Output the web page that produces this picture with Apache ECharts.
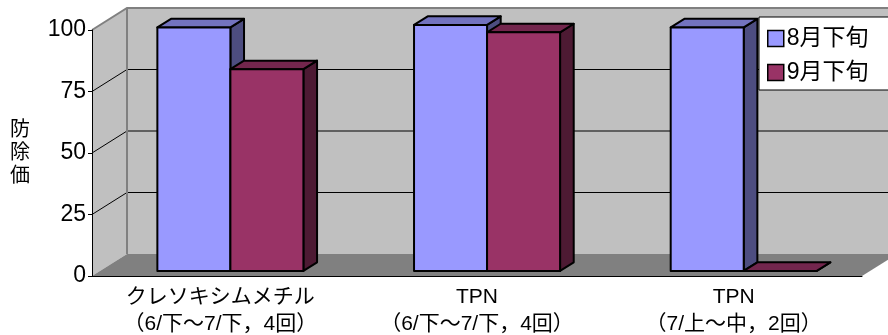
<!DOCTYPE html>
<html><head><meta charset="utf-8">
<script src="https://cdn.jsdelivr.net/npm/echarts@6/dist/echarts.min.js"></script>
<style>html,body{margin:0;padding:0;background:#fff}#c{width:888px;height:335px}</style>
</head><body><div id="c"></div>
<script>
const categories = ['クレソキシムメチル\n（6/下～7/下，4回）', 'TPN\n（6/下～7/下，4回）', 'TPN\n（7/上～中，2回）'];
const seriesNames = ['8月下旬', '9月下旬'];
const augValues = [99, 100, 99];
const sepValues = [82, 97, 0];
const yMin = 0, yMax = 100, yInterval = 25;
const yAxisName = '防\n除\n価';

// 3D style constants
const DX = 35, DY = -22;     // full depth offset of the walls
const F0 = 0.23, F1 = 0.62;  // bar front / back depth fraction
const BAR_FRAC = 0.2845, XADJ = 2;
const FONT = '"Liberation Sans", Arial, "Noto Sans CJK JP", sans-serif';
const palette = [
  { front: '#9999ff', top: '#7373bf', side: '#4d4d80' },
  { front: '#993366', top: '#73264d', side: '#4d1a33' }
];

function renderWalls(params, api) {
  const cw = api.size([1, 0])[0];
  const p0 = api.coord([0, yMin]);
  const pT = api.coord([0, yMax]);
  const xL = p0[0] - cw / 2, xR = xL + categories.length * cw;
  const yB = p0[1], yT = pT[1];
  const children = [
    { type: 'rect', shape: { x: xL + DX, y: yT + DY, width: xR - xL + 2, height: yB - yT }, style: { fill: '#c0c0c0' } },
    { type: 'polygon', shape: { points: [[xL, yB], [xL, yT], [xL + DX, yT + DY], [xL + DX, yB + DY]] }, style: { fill: '#c0c0c0' } },
    { type: 'polygon', shape: { points: [[xL, yB], [xR, yB], [xR + DX, yB + DY], [xL + DX, yB + DY]] }, style: { fill: '#808080' } }
  ];
  for (let v = yMin + yInterval; v < yMax; v += yInterval) {
    const y = api.coord([0, v])[1];
    children.push({ type: 'line', shape: { x1: xL, y1: y, x2: xL + DX, y2: y + DY }, style: { stroke: '#000', lineWidth: 1 } });
    children.push({ type: 'line', shape: { x1: xL + DX, y1: y + DY, x2: xR + DX + 2, y2: y + DY }, style: { stroke: '#000', lineWidth: 1 } });
  }
  children.push({ type: 'polyline', shape: { points: [[xL, yT], [xL + DX, yT + DY], [xR + DX + 2, yT + DY]] }, style: { stroke: '#808080', lineWidth: 2, fill: null } });
  children.push({ type: 'line', shape: { x1: xL + DX, y1: yT + DY, x2: xL + DX, y2: yB + DY }, style: { stroke: '#808080', lineWidth: 2 } });
  return { type: 'group', children };
}

function makeBarRender(s) {
  const col = palette[s];
  return function (params, api) {
    const i = api.value(0), v = api.value(1);
    const cw = api.size([1, 0])[0];
    const base = api.coord([i, 0]), top = api.coord([i, v]);
    const bw = cw * BAR_FRAC;
    const sx = DX * F0 + XADJ, sy = DY * F0;
    const x0 = base[0] - bw + s * bw + sx, x1 = x0 + bw;
    const yb = base[1] + sy, yt = top[1] + sy;
    const ddx = DX * (F1 - F0), ddy = DY * (F1 - F0);
    const st = { stroke: '#000', lineWidth: 2, lineJoin: 'round' };
    return {
      type: 'group',
      children: [
        { type: 'polygon', shape: { points: [[x1, yb], [x1, yt], [x1 + ddx, yt + ddy], [x1 + ddx, yb + ddy]] }, style: Object.assign({ fill: col.side }, st) },
        { type: 'polygon', shape: { points: [[x0, yt], [x1, yt], [x1 + ddx, yt + ddy], [x0 + ddx, yt + ddy]] }, style: Object.assign({ fill: col.top }, st) },
        { type: 'rect', shape: { x: x0, y: yt, width: bw, height: yb - yt }, style: Object.assign({ fill: col.front }, st) }
      ]
    };
  };
}

const chart = echarts.init(document.getElementById('c'), null, { renderer: 'canvas' });
chart.setOption({
  animation: false,
  backgroundColor: '#fff',
  textStyle: { fontFamily: FONT },
  grid: { left: 92, right: 26, top: 30, bottom: 59, containLabel: false, outerBoundsMode: 'none' },
  legend: {
    data: seriesNames,
    orient: 'vertical',
    left: 759, top: 17,
    backgroundColor: '#fff',
    borderColor: '#000', borderWidth: 1,
    padding: [10, 30, 6, 8],
    itemGap: 11,
    itemWidth: 16, itemHeight: 16,
    icon: 'rect',
    itemStyle: { borderColor: '#000', borderWidth: 1.5 },
    textStyle: { fontSize: 23, color: '#000', fontFamily: FONT, padding: [0, 0, 0, -2] }
  },
  xAxis: {
    type: 'category',
    data: categories,
    z: 10,
    axisLine: { lineStyle: { color: '#000', width: 1 } },
    axisTick: { inside: true, length: 4, lineStyle: { color: '#333' } },
    axisLabel: { interval: 0, color: '#000', fontSize: 21, lineHeight: 27, margin: 8, fontFamily: FONT },
    splitLine: { show: false }
  },
  yAxis: {
    type: 'value',
    min: yMin, max: yMax, interval: yInterval,
    z: 10,
    name: yAxisName,
    nameLocation: 'middle',
    nameRotate: 0,
    nameGap: 62,
    nameTextStyle: { fontSize: 20, lineHeight: 23, color: '#000', fontFamily: FONT },
    axisLine: { show: true, lineStyle: { color: '#000', width: 1 } },
    axisTick: { show: true, length: 4, lineStyle: { color: '#000' } },
    axisLabel: { color: '#000', fontSize: 23, margin: 6, fontFamily: FONT },
    splitLine: { show: false }
  },
  series: [
    { type: 'custom', name: '__walls', silent: true, z: 1, renderItem: renderWalls, data: [[0, 0]], encode: { x: 0, y: 1 }, tooltip: { show: false } },
    { type: 'custom', name: seriesNames[0], z: 2, itemStyle: { color: palette[0].front }, renderItem: makeBarRender(0), data: augValues.map((v, i) => [i, v]), encode: { x: 0, y: 1 } },
    { type: 'custom', name: seriesNames[1], z: 2, itemStyle: { color: palette[1].front }, renderItem: makeBarRender(1), data: sepValues.map((v, i) => [i, v]), encode: { x: 0, y: 1 } }
  ]
});
</script>
</body></html>
